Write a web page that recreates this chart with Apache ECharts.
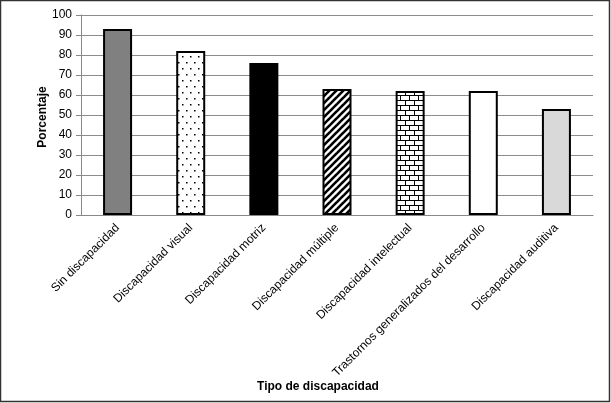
<!DOCTYPE html>
<html>
<head>
<meta charset="utf-8">
<script src="https://cdn.jsdelivr.net/npm/echarts@6/dist/echarts.min.js"></script>
<style>
html,body{margin:0;padding:0;background:#fff;}
#chart{width:611px;height:403px;}
</style>
</head>
<body>
<div id="chart"></div>
<script>
const categories = [
  'Sin discapacidad',
  'Discapacidad visual',
  'Discapacidad motriz',
  'Discapacidad múltiple',
  'Discapacidad intelectual',
  'Trastornos generalizados del desarrollo',
  'Discapacidad auditiva'
];
const values = [93, 82, 76, 63, 62, 62, 53];
const yTicks = [0, 10, 20, 30, 40, 50, 60, 70, 80, 90, 100];
const yTitle = 'Porcentaje';
const xTitle = 'Tipo de discapacidad';

function makeCanvas(w, h, draw) {
  const c = document.createElement('canvas');
  c.width = w; c.height = h;
  const ctx = c.getContext('2d');
  ctx.fillStyle = '#fff';
  ctx.fillRect(0, 0, w, h);
  draw(ctx);
  return c;
}
const dots = makeCanvas(8, 12, ctx => {
  ctx.fillStyle = '#000';
  ctx.fillRect(2, 2, 1.5, 1.5);
  ctx.fillRect(6, 8, 1.5, 1.5);
});
const diag = makeCanvas(7, 7, ctx => {
  ctx.strokeStyle = '#000';
  ctx.lineWidth = 2.6;
  for (let k = -7; k <= 14; k += 7) {
    ctx.beginPath();
    ctx.moveTo(k - 1, 8);
    ctx.lineTo(k + 8, -1);
    ctx.stroke();
  }
});
const brick = makeCanvas(9, 10, ctx => {
  ctx.fillStyle = '#000';
  ctx.fillRect(0, 0, 9, 1);
  ctx.fillRect(0, 5, 9, 1);
  ctx.fillRect(0, 0, 1, 5);
  ctx.fillRect(4, 5, 1, 5);
});
const fills = [
  '#808080',
  {image: dots, repeat: 'repeat'},
  '#000000',
  {image: diag, repeat: 'repeat'},
  {image: brick, repeat: 'repeat'},
  '#ffffff',
  '#d9d9d9'
];

const chart = echarts.init(document.getElementById('chart'), null, {renderer: 'canvas'});
const font = 'Liberation Sans, Arial, sans-serif';
chart.setOption({
  animation: false,
  backgroundColor: '#fff',
  grid: {left: 81, right: 18, top: 15, bottom: 188, containLabel: false},
  xAxis: {
    type: 'category',
    data: categories,
    axisLine: {show: true, lineStyle: {color: '#888', width: 1}},
    axisTick: {show: false},
    axisLabel: {rotate: 45, margin: 11, fontSize: 12, color: '#000', fontFamily: font, interval: 0}
  },
  yAxis: {
    type: 'value',
    min: yTicks[0],
    max: yTicks[yTicks.length - 1],
    interval: yTicks[1] - yTicks[0],
    axisLine: {show: true, lineStyle: {color: '#888', width: 1}},
    axisTick: {show: true, length: 5, lineStyle: {color: '#888'}},
    axisLabel: {fontSize: 12, color: '#000', fontFamily: font, margin: 9},
    splitLine: {show: true, lineStyle: {color: '#8c8c8c', width: 1}}
  },
  series: [{
    type: 'bar',
    barWidth: 29,
    data: values.map((v, i) => ({
      value: v,
      itemStyle: {color: fills[i], borderColor: '#000', borderWidth: 2}
    }))
  }],
  graphic: [
    {type: 'rect', shape: {x: 0.5, y: 0.5, width: 609, height: 401}, style: {fill: 'none', stroke: '#333', lineWidth: 1.5}, silent: true},
    {type: 'text', x: 318, y: 387, style: {text: xTitle, font: 'bold 12px ' + font, fill: '#000', textAlign: 'center', textVerticalAlign: 'middle'}},
    {type: 'text', x: 43, y: 117, rotation: Math.PI / 2, style: {text: yTitle, font: 'bold 12px ' + font, fill: '#000', textAlign: 'center', textVerticalAlign: 'middle'}}
  ]
});
</script>
</body>
</html>
